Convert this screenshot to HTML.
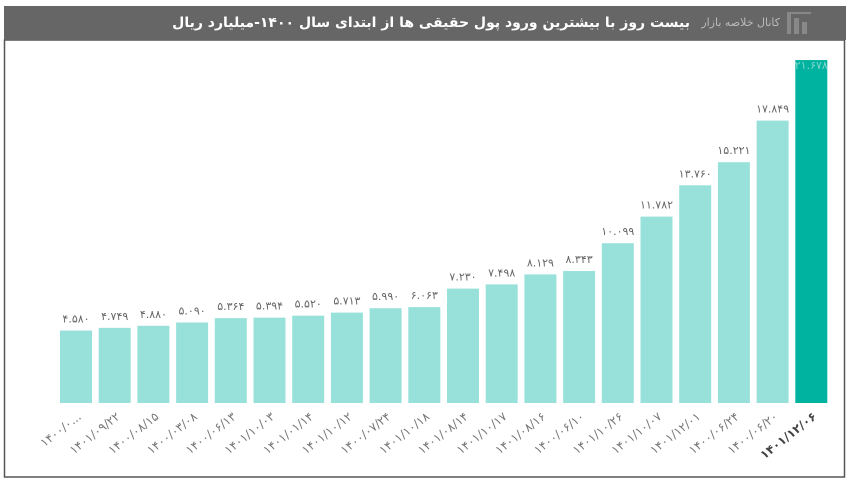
<!DOCTYPE html>
<html><head><meta charset="utf-8"><style>
body{margin:0;width:850px;height:484px;background:#fff;overflow:hidden;font-family:"Liberation Sans","DejaVu Sans",sans-serif;position:relative}
.t{position:absolute;top:6px;height:34px;line-height:34px;white-space:nowrap;direction:rtl;font-family:"DejaVu Sans",sans-serif}
</style></head><body>
<svg width="850" height="484" xmlns="http://www.w3.org/2000/svg" style="position:absolute;left:0;top:0">
<rect x="4.5" y="40" width="840" height="437" fill="#fff" stroke="#555" stroke-width="1.5"/>
<rect x="4" y="6" width="842" height="34" fill="#666"/>
<g fill="#888"><rect x="787" y="14" width="4" height="20"/><rect x="794" y="18" width="5" height="16"/><rect x="802" y="22" width="5" height="12"/><rect x="787" y="12" width="24" height="2"/></g>
<g id="bars"></g>
</svg>
<div class="t" style="right:70px;font-size:11px;color:#bbb">کانال خلاصه بازار</div>
<div class="t" style="right:160px;font-size:14px;font-weight:bold;color:#fff;letter-spacing:-0.2px">بیست روز با بیشترین ورود پول حقیقی ها از ابتدای  سال ۱۴۰۰-میلیارد ریال</div>
<script>
var vals=[4580,4749,4880,5090,5364,5394,5520,5713,5990,6063,7230,7498,8129,8343,10099,11782,13760,15221,17849,21678];
var lab=["۱۴۰۰/۰...","۱۴۰۱/۰۹/۲۲","۱۴۰۰/۰۸/۱۵","۱۴۰۰/۰۳/۰۸","۱۴۰۰/۰۶/۱۳","۱۴۰۱/۱۰/۰۳","۱۴۰۱/۰۱/۱۴","۱۴۰۱/۱۰/۱۲","۱۴۰۰/۰۷/۲۴","۱۴۰۱/۱۰/۱۸","۱۴۰۱/۰۸/۱۴","۱۴۰۱/۱۰/۱۷","۱۴۰۱/۰۸/۱۶","۱۴۰۰/۰۶/۱۰","۱۴۰۱/۱۰/۲۶","۱۴۰۱/۱۰/۰۷","۱۴۰۱/۱۲/۰۱","۱۴۰۰/۰۶/۲۴","۱۴۰۰/۰۶/۲۰","۱۴۰۱/۱۲/۰۶"];
function fa(s){return String(s).replace(/\d/g,function(d){return "۰۱۲۳۴۵۶۷۸۹"[d]});}
var g=document.getElementById('bars'),h='';
for(var i=0;i<20;i++){
 var cx=76+i*38.7,by=403-vals[i]*0.01582,last=(i==19);
 h+='<rect x="'+(cx-16)+'" y="'+by+'" width="32" height="'+(403-by)+'" fill="'+(last?'#00b3a0':'#98e1da')+'"/>';
 var v=vals[i],t=fa(Math.floor(v/1000))+'.'+fa(('00'+(v%1000)).slice(-3));
 h+='<text x="'+cx+'" y="'+(last?by+9:by-8)+'" font-size="11" fill="'+(last?'#7fd6cc':'#666')+'" text-anchor="middle" font-family="DejaVu Sans,sans-serif">'+t+'</text>';
 h+='<text transform="translate('+(cx+6)+',418) rotate(-38)" font-size="12" fill="'+(last?'#444':'#777')+'"'+(last?' font-weight="bold"':'')+' text-anchor="end" style="direction:ltr;unicode-bidi:bidi-override" font-family="DejaVu Sans,sans-serif">'+lab[i]+'</text>';
}
g.innerHTML=h;
</script>
</body></html>
